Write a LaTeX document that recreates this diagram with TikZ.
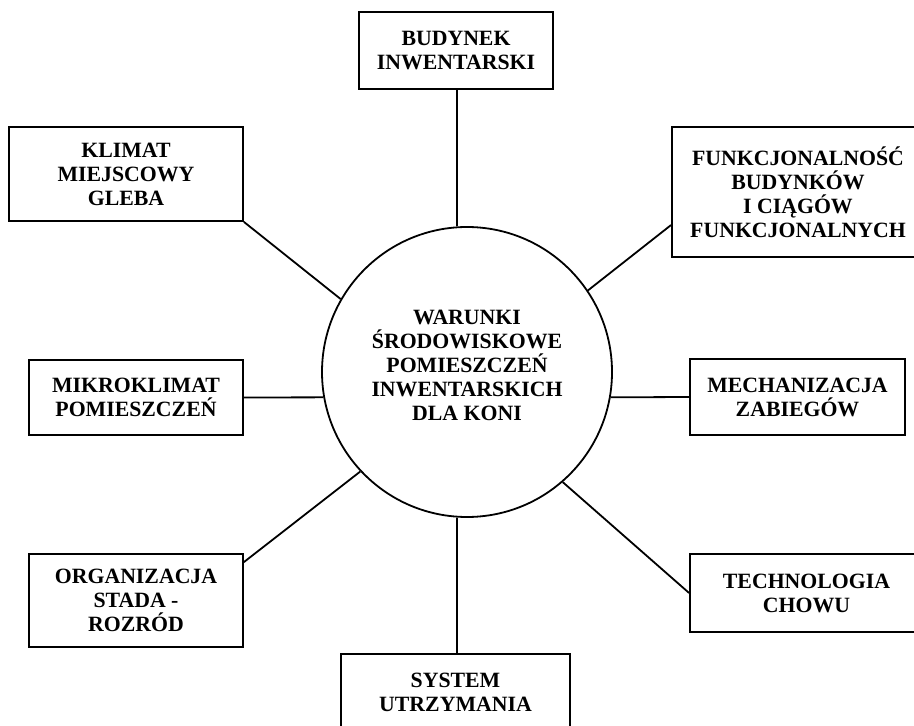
\documentclass[tikz,border=0pt]{standalone}
\usepackage{fontspec}
\setmainfont{Liberation Serif}
\begin{document}
\begin{tikzpicture}[x=0.5pt,y=-0.5pt,
  lbl/.style={font=\bfseries\fontsize{10.9}{12}\selectfont, align=center},
  box/.style={lbl, draw, line width=0.9pt, inner sep=0pt},
  conn/.style={line width=0.9pt}]
\path[use as bounding box] (0,0) rectangle (914,726);
\clip (0,0) rectangle (914,726);
\node[draw, circle, line width=0.9pt, minimum size=145pt, inner sep=0pt] (c) at (467,372) {};
\node[lbl] (ct) at (467,365) {WARUNKI\\ŚRODOWISKOWE\\POMIESZCZEŃ\\INWENTARSKICH\\DLA KONI};
\node[box, minimum width=97pt, minimum height=38.5pt] (bud) at (456,50.5) {BUDYNEK\\INWENTARSKI};
\node[box, minimum width=117pt, minimum height=47pt] (klim) at (126,174) {KLIMAT\\MIEJSCOWY\\GLEBA};
\node[box, minimum width=126pt, minimum height=65pt] (funk) at (798,192) {FUNKCJONALNOŚĆ\\BUDYNKÓW\\I CIĄGÓW\\FUNKCJONALNYCH};
\node[box, minimum width=107pt, minimum height=37.5pt] (mikro) at (136,397.5) {MIKROKLIMAT\\POMIESZCZEŃ};
\node[box, minimum width=107.5pt, minimum height=38pt] (mech) at (797.5,397) {MECHANIZACJA\\ZABIEGÓW};
\node[box, minimum width=107pt, minimum height=46.5pt] (org) at (136,600.5) {ORGANIZACJA\\STADA -\\ROZRÓD};
\node[box, minimum width=116.5pt, minimum height=39pt] (tech) at (806.5,593) {TECHNOLOGIA\\CHOWU};
\node[box, minimum width=114.5pt, minimum height=38pt] (sys) at (455.5,692) {SYSTEM\\UTRZYMANIA};
\draw[conn] (bud.south -| c.94) -- (c.94);
\draw[conn] (klim.south east) -- (c.150);
\draw[conn] ([yshift=-16.5pt]funk.west) -- (c.34);
\draw[conn] (mikro.east) -- (c.190);
\draw[conn] (c.-10) -- (mech.west);
\draw[conn] ([yshift=-4.5pt]org.north east) -- (c.223);
\draw[conn] (c.311) -- (tech.west);
\draw[conn] (c.266) -- (c.266 |- sys.north);
\end{tikzpicture}
\end{document}
